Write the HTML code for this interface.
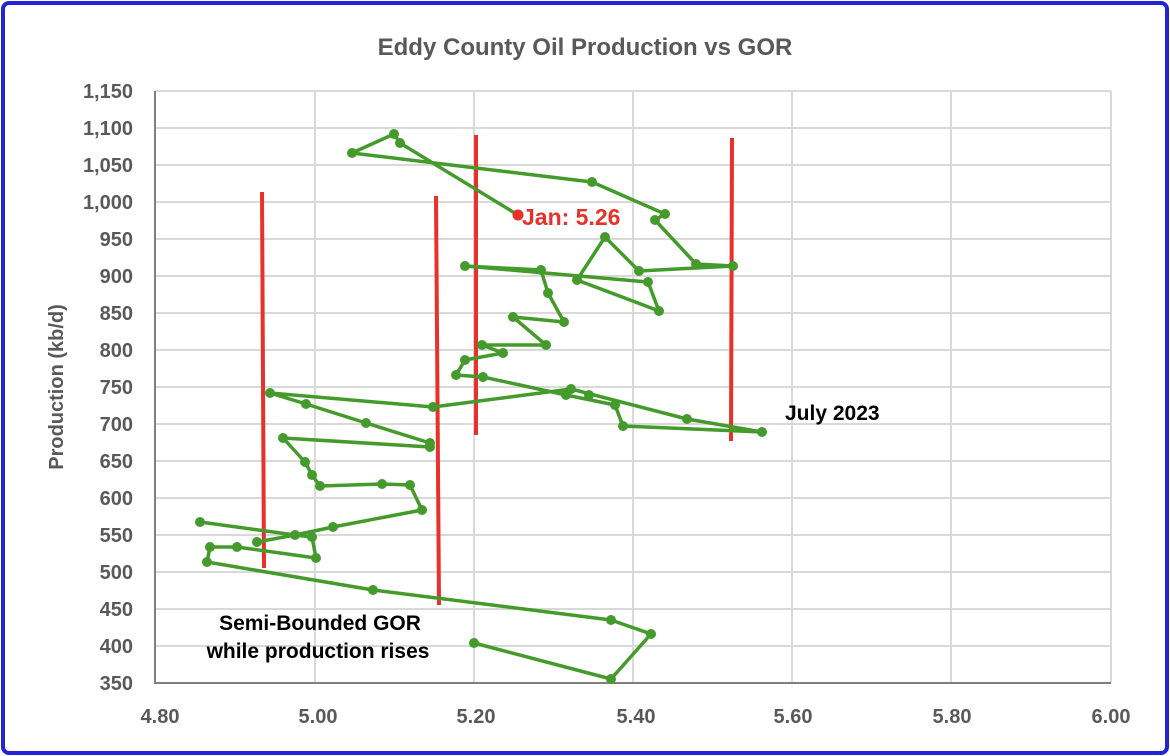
<!DOCTYPE html>
<html><head><style>
body{margin:0;background:#fff}
svg{display:block;font-family:"Liberation Sans",Arial,sans-serif}
</style></head><body>
<svg width="1170" height="756" viewBox="0 0 1170 756">
<rect x="3" y="3" width="1164" height="750" rx="6" fill="#fff" stroke="#2424d6" stroke-width="4"/>
<text x="585" y="55" text-anchor="middle" font-size="24" font-weight="bold" fill="#595959">Eddy County Oil Production vs GOR</text>
<g stroke="#d9d9d9" stroke-width="2">
<line x1="155" x2="1111" y1="91" y2="91"/><line x1="155" x2="1111" y1="128" y2="128"/><line x1="155" x2="1111" y1="165" y2="165"/><line x1="155" x2="1111" y1="202" y2="202"/><line x1="155" x2="1111" y1="239" y2="239"/><line x1="155" x2="1111" y1="276" y2="276"/><line x1="155" x2="1111" y1="313" y2="313"/><line x1="155" x2="1111" y1="350" y2="350"/><line x1="155" x2="1111" y1="387" y2="387"/><line x1="155" x2="1111" y1="424" y2="424"/><line x1="155" x2="1111" y1="461" y2="461"/><line x1="155" x2="1111" y1="498" y2="498"/><line x1="155" x2="1111" y1="535" y2="535"/><line x1="155" x2="1111" y1="572" y2="572"/><line x1="155" x2="1111" y1="609" y2="609"/><line x1="155" x2="1111" y1="646" y2="646"/>
<line x1="315" x2="315" y1="91" y2="683"/><line x1="474" x2="474" y1="91" y2="683"/><line x1="633" x2="633" y1="91" y2="683"/><line x1="792" x2="792" y1="91" y2="683"/><line x1="951" x2="951" y1="91" y2="683"/><line x1="1111" x2="1111" y1="91" y2="683"/>
</g>
<polyline points="155,91 155,683 1111,683" fill="none" stroke="#7f7f7f" stroke-width="2"/>
<g font-size="20" font-weight="bold" fill="#595959" text-anchor="end">
<text x="133" y="98">1,150</text><text x="133" y="135">1,100</text><text x="133" y="172">1,050</text><text x="133" y="209">1,000</text><text x="133" y="246">950</text><text x="133" y="283">900</text><text x="133" y="320">850</text><text x="133" y="357">800</text><text x="133" y="394">750</text><text x="133" y="431">700</text><text x="133" y="468">650</text><text x="133" y="505">600</text><text x="133" y="542">550</text><text x="133" y="579">500</text><text x="133" y="616">450</text><text x="133" y="653">400</text><text x="133" y="690">350</text>
</g>
<g font-size="20" font-weight="bold" fill="#595959" text-anchor="middle">
<text x="160" y="723">4.80</text><text x="318" y="723">5.00</text><text x="476" y="723">5.20</text><text x="636" y="723">5.40</text><text x="793" y="723">5.60</text><text x="952" y="723">5.80</text><text x="1111" y="723">6.00</text>
</g>
<text transform="translate(63,387) rotate(-90)" text-anchor="middle" font-size="20" font-weight="bold" fill="#595959">Production (kb/d)</text>
<g stroke="#e8312a" stroke-width="4">
<line x1="262" y1="192" x2="264" y2="568"/><line x1="436" y1="196" x2="439" y2="605"/><line x1="476" y1="135" x2="476" y2="435"/><line x1="732" y1="138" x2="731" y2="441"/>
</g>
<g fill="none" stroke="#459a2c" stroke-width="3.5" stroke-linejoin="round">
<polyline points="474,643 611,679 651,634 611,620 373,590 207,562 210,547 237,547 316,558 312,537 295,535 200,522"/>
<polyline points="257,542 295,535 333,527 422,510 410,485 382,484 320,486 312,475 305,462 283,438 430,447 430,443 366,423 306,404 270,393 433,407 571,389 687,419 762,432 623,426 615,405 566,395 483,377 456,375 465,360 503,353 482,345 546,345 513,317 564,322 548,293 541,270 465,266 648,282 659,311 577,280 605,237 639,271 733,266 696,264 655,220 665,214 592,182 352,153 394,134 400,143 518,215"/>
</g>
<g fill="#459a2c">
<circle cx="474" cy="643" r="5"/><circle cx="611" cy="679" r="5"/><circle cx="651" cy="634" r="5"/><circle cx="611" cy="620" r="5"/><circle cx="373" cy="590" r="5"/><circle cx="207" cy="562" r="5"/><circle cx="210" cy="547" r="5"/><circle cx="237" cy="547" r="5"/><circle cx="316" cy="558" r="5"/><circle cx="312" cy="537" r="5"/><circle cx="295" cy="535" r="5"/><circle cx="200" cy="522" r="5"/><circle cx="257" cy="542" r="5"/><circle cx="333" cy="527" r="5"/><circle cx="422" cy="510" r="5"/><circle cx="410" cy="485" r="5"/><circle cx="382" cy="484" r="5"/><circle cx="320" cy="486" r="5"/><circle cx="312" cy="475" r="5"/><circle cx="305" cy="462" r="5"/><circle cx="283" cy="438" r="5"/><circle cx="430" cy="447" r="5"/><circle cx="430" cy="443" r="5"/><circle cx="366" cy="423" r="5"/><circle cx="306" cy="404" r="5"/><circle cx="270" cy="393" r="5"/><circle cx="433" cy="407" r="5"/><circle cx="571" cy="389" r="5"/><circle cx="566" cy="395" r="5"/><circle cx="589" cy="395" r="5"/><circle cx="615" cy="405" r="5"/><circle cx="687" cy="419" r="5"/><circle cx="762" cy="432" r="5"/><circle cx="623" cy="426" r="5"/><circle cx="483" cy="377" r="5"/><circle cx="456" cy="375" r="5"/><circle cx="465" cy="360" r="5"/><circle cx="503" cy="353" r="5"/><circle cx="482" cy="345" r="5"/><circle cx="546" cy="345" r="5"/><circle cx="513" cy="317" r="5"/><circle cx="564" cy="322" r="5"/><circle cx="548" cy="293" r="5"/><circle cx="541" cy="270" r="5"/><circle cx="465" cy="266" r="5"/><circle cx="648" cy="282" r="5"/><circle cx="659" cy="311" r="5"/><circle cx="577" cy="280" r="5"/><circle cx="605" cy="237" r="5"/><circle cx="639" cy="271" r="5"/><circle cx="733" cy="266" r="5"/><circle cx="696" cy="264" r="5"/><circle cx="655" cy="220" r="5"/><circle cx="665" cy="214" r="5"/><circle cx="592" cy="182" r="5"/><circle cx="352" cy="153" r="5"/><circle cx="394" cy="134" r="5"/><circle cx="400" cy="143" r="5"/>
</g>
<circle cx="518" cy="215" r="5.5" fill="#e8312a"/>
<text x="522" y="225" font-size="23" font-weight="bold" fill="#e8312a">Jan: 5.26</text>
<text x="785" y="420" font-size="21" font-weight="bold" fill="#000">July 2023</text>
<text x="320" y="630" text-anchor="middle" font-size="21" font-weight="bold" fill="#000">Semi-Bounded GOR</text>
<text x="318" y="658" text-anchor="middle" font-size="21" font-weight="bold" fill="#000">while production rises</text>
</svg>
</body></html>
